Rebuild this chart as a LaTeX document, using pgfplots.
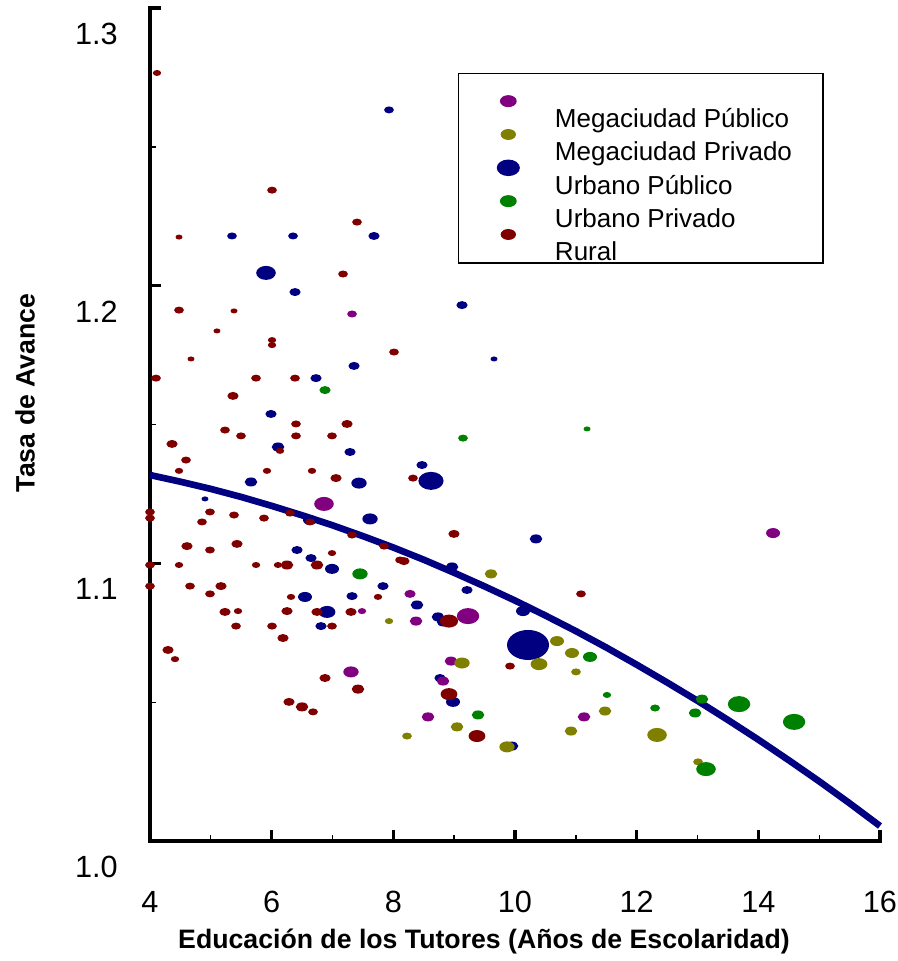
\documentclass[border=0pt]{standalone}
\usepackage{pgfplots}
\usepackage{pgfplotstable}
\pgfplotsset{compat=1.18}
\usepackage{fontspec}
\setmainfont{Liberation Sans}
\definecolor{cMP}{RGB}{128,0,128}
\definecolor{cMV}{RGB}{128,128,0}
\definecolor{cUP}{RGB}{0,0,128}
\definecolor{cUV}{RGB}{0,128,0}
\definecolor{cR}{RGB}{128,0,0}
\pgfdeclareplotmark{oval}{%
  \pgfpathellipse{\pgfpointorigin}{\pgfqpoint{1.4\pgfplotmarksize}{0pt}}{\pgfqpoint{0pt}{\pgfplotmarksize}}%
  \pgfusepathqfill}
\pgfplotsset{bub/.style={scatter, only marks, mark=oval, forget plot,
  visualization depends on={0.75*\thisrow{s} \as \ms},
  scatter/@pre marker code/.code={\scope[mark size=\ms]},
  scatter/@post marker code/.code={\endscope}},
  limgA/.style={legend image code/.code={%
    \path (0pt,0pt) (71.25pt,0pt);
    \draw[##1, overlay] plot coordinates {(36.75pt,0.375pt)};}},
  limgB/.style={legend image code/.code={%
    \path (0pt,0pt) (71.25pt,0pt);
    \draw[##1, overlay] plot coordinates {(36.75pt,8.875pt)};}}}
\newcommand{\lsa}{\rule[-2.25pt]{0pt}{42.75pt}}
\newcommand{\lsb}{\rule[-2.25pt]{0pt}{25.75pt}}
\newcommand{\legent}[2]{\makebox[201pt][l]{#1#2}}

% x y s (s = half height of the bubble, px)
\pgfplotstableread{
x y s
7.321 1.1898 3.5
6.860 1.1214 7
7.485 1.0828 3
7.304 1.0609 5.5
8.274 1.0890 4
8.373 1.0792 4.5
9.228 1.0810 8
8.948 1.0648 4.5
8.817 1.0576 4.5
8.570 1.0447 4.5
11.135 1.0447 4.5
14.242 1.1109 5
}\megapub
\pgfplotstableread{
x y s
7.929 1.0792 3
9.606 1.0962 4.5
10.691 1.0720 5
10.937 1.0677 5
9.129 1.0641 5.5
10.395 1.0637 6
11.003 1.0609 3.5
11.480 1.0468 4.5
9.047 1.0411 4.5
10.921 1.0396 4.5
8.225 1.0378 3.5
9.869 1.0339 5.5
12.335 1.0382 7
13.009 1.0285 3.5
}\megapriv
\pgfplotstableread{
x y s
7.929 1.2633 3.5
5.348 1.2179 3.5
6.351 1.2179 3.5
7.682 1.2179 4
5.907 1.2046 7
6.384 1.1977 4
7.354 1.1711 4
6.729 1.1667 4
5.989 1.1538 4
6.104 1.1419 4.5
7.288 1.1401 4
5.660 1.1293 4.5
7.436 1.1289 5.5
4.904 1.1232 2.5
6.630 1.1156 5
7.617 1.1160 5.5
6.417 1.1048 4
6.647 1.1019 4
6.992 1.0980 5
7.830 1.0918 4
6.548 1.0879 5
7.321 1.0882 4
6.910 1.0825 6
6.811 1.0774 4
9.129 1.1930 4
9.655 1.1736 2.5
8.471 1.1354 4
8.619 1.1297 9
10.345 1.1088 4.5
8.965 1.0987 4.5
9.211 1.0904 4
8.389 1.0850 4.5
10.132 1.0828 5
8.734 1.0807 4.5
8.817 1.0789 4.5
10.214 1.0706 15
8.767 1.0587 4
8.981 1.0501 5
9.951 1.0342 4.5
}\urbpub
\pgfplotstableread{
x y s
6.877 1.1624 4
7.452 1.0962 5.5
9.145 1.1451 3.5
11.184 1.1484 2.5
11.233 1.0663 5
9.392 1.0454 4.5
11.512 1.0526 3
13.074 1.0511 4.5
13.683 1.0493 8
12.302 1.0479 3.5
12.960 1.0461 4.5
14.588 1.0429 8
13.140 1.0259 7
}\urbpriv
\pgfplotstableread{
x y s
4.115 1.2766 3
6.006 1.2344 3.5
7.403 1.2229 3.5
4.477 1.2175 2.5
7.173 1.2042 3.5
4.477 1.1912 3.5
5.381 1.1909 2.5
5.101 1.1837 2.5
6.006 1.1804 3
6.006 1.1786 3
8.011 1.1761 3.5
4.674 1.1736 2.5
4.099 1.1667 3.5
5.743 1.1667 3.5
6.384 1.1667 3.5
5.364 1.1603 4
6.400 1.1502 3.5
7.239 1.1502 4
5.233 1.1480 3.5
5.496 1.1459 3.5
6.400 1.1459 3.5
6.992 1.1459 3.5
4.362 1.1430 4
6.137 1.1405 3
4.592 1.1372 3.5
4.477 1.1333 3
5.923 1.1333 3
6.663 1.1333 3
7.058 1.1307 4
4.000 1.1185 3.5
4.000 1.1163 3.5
4.986 1.1185 3.5
5.381 1.1174 3.5
5.874 1.1163 3.5
6.301 1.1181 3.5
6.630 1.1149 3.5
4.855 1.1149 3.5
7.321 1.1102 3.5
4.608 1.1062 4
4.986 1.1048 3.5
5.430 1.1070 4
6.992 1.1037 3
7.847 1.1062 3.5
4.000 1.0994 3.5
4.477 1.0994 3
5.743 1.0994 3
6.104 1.0994 3
6.252 1.0994 4.5
6.745 1.0994 4.5
8.110 1.1012 3.5
4.000 1.0918 3.5
4.658 1.0918 3.5
5.167 1.0918 4
4.986 1.0890 3.5
6.318 1.0879 3
7.748 1.0879 3
5.233 1.0825 4
5.447 1.0828 3
6.252 1.0828 4
6.745 1.0825 4
7.304 1.0825 4
5.414 1.0774 3.5
6.006 1.0774 3.5
6.992 1.0774 3.5
6.186 1.0731 4
4.296 1.0688 4
4.411 1.0655 3
6.877 1.0587 4
7.419 1.0547 4.5
6.285 1.0501 4
6.499 1.0483 4.5
6.680 1.0465 3.5
8.323 1.1307 3.5
8.997 1.1106 4
8.175 1.1008 4
11.085 1.0890 3.5
8.915 1.0792 6.5
9.918 1.0630 3.5
8.915 1.0529 6
9.375 1.0378 6
}\rural
\pgfplotstableread{
x y
4 1.1318
4.5 1.1294
5 1.1268
5.5 1.1239
6 1.1207
6.5 1.1173
7 1.1137
7.5 1.1098
8 1.1057
8.5 1.1013
9 1.0966
9.5 1.0917
10 1.0866
10.5 1.0812
11 1.0756
11.5 1.0697
12 1.0635
12.5 1.0571
13 1.0505
13.5 1.0436
14 1.0365
14.5 1.0291
15 1.0215
15.5 1.0136
16 1.0054
}\trend

\begin{document}
\begin{tikzpicture}
\begin{axis}[
  scale only axis, width=547.5pt, height=624.75pt,
  xmin=4, xmax=16, ymin=1.0, ymax=1.3,
  clip=false,
  axis lines*=left,
  axis line style={line width=3pt, line cap=rect},
  xtick={4,6,...,16}, ytick={1.0,1.1,1.2,1.3},
  minor x tick num=1, minor y tick num=1,
  tick align=inside,
  major tick length=8.5pt, minor tick length=4.5pt,
  every major tick/.append style={line width=2.5pt, black},
  every minor tick/.append style={line width=1pt, black},
  /pgf/number format/assume math mode=true,
  tick label style={font=\fontsize{23}{27}\selectfont},
  y tick label style={/pgf/number format/fixed, /pgf/number format/fixed zerofill, /pgf/number format/precision=1, anchor=east, inner sep=0pt, xshift=-24pt, yshift=-19.5pt},
  x tick label style={anchor=base, inner sep=0pt, yshift=-53.8pt},
  every axis x label/.style={at={(axis description cs:0.4575,0)}, anchor=base, yshift=-80.25pt, font=\fontsize{20}{24}\selectfont\bfseries},
  every axis y label/.style={at={(axis description cs:0,0.538)}, xshift=-93.75pt, rotate=90, anchor=center, font=\fontsize{20}{24}\selectfont\bfseries},
  xlabel={Educación de los Tutores (Años de Escolaridad)},
  ylabel={Tasa de Avance},
  legend style={at={(0.4219,0.9220)}, anchor=north west, draw=black, line width=1pt,
    inner xsep=0pt, inner ysep=0pt, row sep=0pt, column sep=0pt, fill=white,
    font=\fontsize{19.5}{23}\selectfont, nodes={inner sep=0pt}},
  legend cell align=left,
]
\addlegendimage{only marks, mark=oval, color=cMP, mark size=4.5pt, limgA}
\addlegendentry{\legent{\lsa}{Megaciudad Público}}
\addlegendimage{only marks, mark=oval, color=cMV, mark size=4.1pt, limgB}
\addlegendentry{\legent{\lsb}{Megaciudad Privado}}
\addlegendimage{only marks, mark=oval, color=cUP, mark size=6.2pt, limgB}
\addlegendentry{\legent{\lsb}{Urbano Público}}
\addlegendimage{only marks, mark=oval, color=cUV, mark size=4.5pt, limgB}
\addlegendentry{\legent{\lsb}{Urbano Privado}}
\addlegendimage{only marks, mark=oval, color=cR, mark size=4.1pt, limgB}
\addlegendentry{\legent{\lsb}{Rural}}

\addplot[bub, color=cUP] table {\urbpub};
\addplot[bub, color=cMP] table {\megapub};
\addplot[bub, color=cMV] table {\megapriv};
\addplot[bub, color=cUV] table {\urbpriv};
\addplot[bub, color=cR] table {\rural};
\addplot[forget plot, no marks, color=cUP, line width=5pt] table {\trend};
\end{axis}
\pgfresetboundingbox
\path (-112.5pt,-90pt) rectangle (560.25pt,630.75pt);
\end{tikzpicture}
\end{document}
